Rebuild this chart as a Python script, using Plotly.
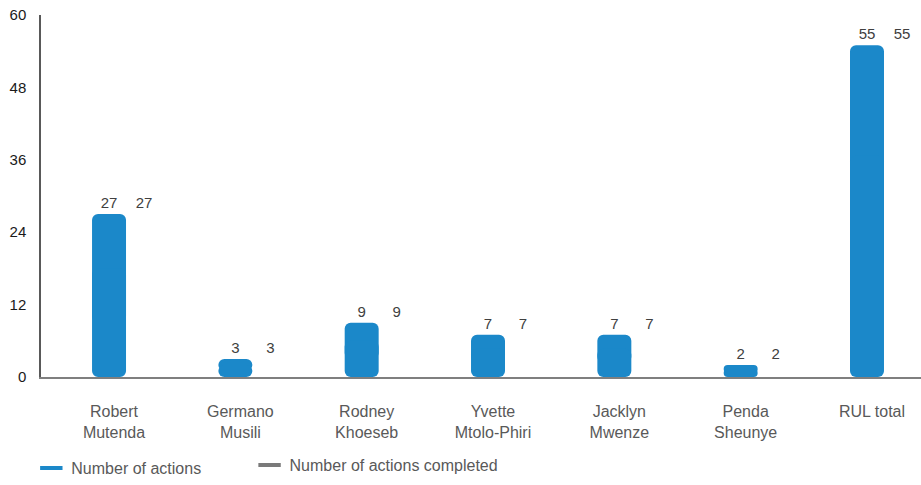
import plotly.graph_objects as go

categories = ["Robert<br>Mutenda", "Germano<br>Musili", "Rodney<br>Khoeseb",
              "Yvette<br>Mtolo-Phiri", "Jacklyn<br>Mwenze", "Penda<br>Sheunye", "RUL total"]
actions = [27, 3, 9, 7, 7, 2, 55]
completed = [27, 3, 9, 7, 7, 2, 55]
y_ticks = [0, 12, 24, 36, 48, 60]

BLUE = "#1B88C9"
GREY = "#7A7A7A"
FONT = "Liberation Sans, Arial, sans-serif"
BAR_W = 0.269
RADIUS = 6
Y_MAX = y_ticks[-1]

# Blue bars are built from two overlapping pieces: the upper piece (on y) gets
# rounded top corners, the lower piece (on a flipped twin axis y2) gets rounded
# bottom corners, so together each bar is rounded at both ends.
upper_base = [v / 3 for v in actions]
upper_len = [v - b for v, b in zip(actions, upper_base)]
lower_len = [2 * v / 3 for v in actions]
lower_base_flipped = [Y_MAX - l for l in lower_len]

fig = go.Figure()

fig.add_trace(go.Bar(
    x=categories, y=upper_len, base=upper_base, width=BAR_W, offset=-0.174,
    marker=dict(color=BLUE, line=dict(width=0), cornerradius=RADIUS),
    text=actions, texttemplate="%{text}", textposition="outside",
    textfont=dict(family=FONT, size=15, color="#404040"),
    cliponaxis=False, showlegend=False, hoverinfo="skip",
))
fig.add_trace(go.Bar(
    x=categories, y=lower_len, base=lower_base_flipped, width=BAR_W, offset=-0.174,
    yaxis="y2",
    marker=dict(color=BLUE, line=dict(width=0), cornerradius=RADIUS),
    showlegend=False, hoverinfo="skip",
))
# Completed actions: bar kept transparent, only its value label is shown
fig.add_trace(go.Bar(
    x=categories, y=completed, width=BAR_W, offset=0.103,
    marker=dict(color="rgba(0,0,0,0)", line=dict(width=0)),
    text=completed, texttemplate="%{text}", textposition="outside",
    textfont=dict(family=FONT, size=15, color="#404040"),
    cliponaxis=False, showlegend=False, hoverinfo="skip",
))

# Legend entries drawn as short dashes, each in its own legend box
fig.add_trace(go.Scatter(
    x=[None], y=[None], mode="markers", name="Number of actions", legend="legend",
    marker=dict(symbol="line-ew", size=18, color=BLUE, line=dict(color=BLUE, width=4)),
))
fig.add_trace(go.Scatter(
    x=[None], y=[None], mode="markers", name="Number of actions completed", legend="legend2",
    marker=dict(symbol="line-ew", size=18, color=GREY, line=dict(color=GREY, width=4)),
))

legend_font = dict(family=FONT, size=16, color="#595959")

fig.update_layout(
    width=921, height=485,
    margin=dict(l=41, r=0, t=15, b=108),
    paper_bgcolor="white", plot_bgcolor="white",
    barmode="overlay",
    font=dict(family=FONT, color="#595959"),
    xaxis=dict(
        type="category", range=[-0.578, 6.388],
        showline=True, linecolor="#7F7F7F", linewidth=2,
        showgrid=False, ticks="", ticklabelstandoff=19,
        tickfont=dict(family=FONT, size=16, color="#595959"),
        automargin=False,
    ),
    yaxis=dict(
        range=[0, Y_MAX], tickvals=y_ticks,
        showline=True, linecolor="#595959", linewidth=1.5,
        showgrid=False, zeroline=False, ticks="", ticklabelstandoff=10,
        tickfont=dict(family=FONT, size=15, color="#1A1A1A"),
        automargin=False,
    ),
    yaxis2=dict(
        range=[Y_MAX, 0], overlaying="y", visible=False,
        showgrid=False, zeroline=False, automargin=False,
    ),
    legend=dict(
        orientation="h", x=-0.011, xanchor="left", y=-0.2983, yanchor="bottom",
        font=legend_font, bgcolor="rgba(0,0,0,0)",
    ),
    legend2=dict(
        orientation="h", x=0.237, xanchor="left", y=-0.290, yanchor="bottom",
        font=legend_font, bgcolor="rgba(0,0,0,0)",
    ),
)

fig.write_html("out.html")
